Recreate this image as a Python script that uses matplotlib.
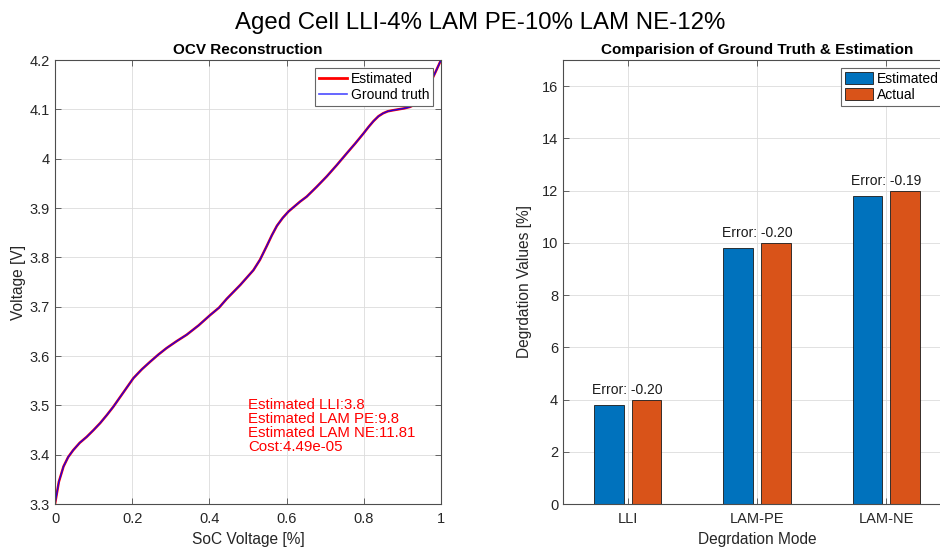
import matplotlib
matplotlib.use("Agg")
import matplotlib.pyplot as plt
import numpy as np

plt.rcParams['font.family'] = ['Liberation Sans', 'DejaVu Sans']

# OCV curve
soc = [0.0, 0.010, 0.022, 0.034, 0.047, 0.064, 0.082, 0.100, 0.117, 0.134, 0.151,
       0.177, 0.203, 0.225, 0.246, 0.268, 0.289, 0.315, 0.341, 0.372, 0.402,
       0.425, 0.445, 0.480, 0.514, 0.531, 0.548, 0.562, 0.575, 0.590, 0.605,
       0.620, 0.635, 0.652, 0.678, 0.704, 0.730, 0.756, 0.778, 0.799, 0.812,
       0.825, 0.838, 0.850, 0.862, 0.875, 0.890, 0.905, 0.920, 0.935, 0.948,
       0.960, 0.972, 0.986, 1.0]
volt = [3.300, 3.345, 3.376, 3.395, 3.409, 3.424, 3.436, 3.450, 3.464, 3.480, 3.497,
        3.526, 3.555, 3.573, 3.588, 3.603, 3.616, 3.630, 3.643, 3.662, 3.683,
        3.698, 3.716, 3.744, 3.774, 3.795, 3.822, 3.845, 3.864, 3.880, 3.893,
        3.903, 3.913, 3.923, 3.943, 3.964, 3.987, 4.011, 4.031, 4.051, 4.064,
        4.076, 4.086, 4.092, 4.096, 4.098, 4.100, 4.102, 4.105, 4.111, 4.121,
        4.135, 4.153, 4.176, 4.200]

categories = ['LLI', 'LAM-PE', 'LAM-NE']
estimated = [3.8, 9.8, 11.81]
actual = [4.0, 10.0, 12.0]
errors = ['-0.20', '-0.20', '-0.19']

annot_lines = ['Estimated LLI:3.8', 'Estimated LAM PE:9.8',
               'Estimated LAM NE:11.81', 'Cost:4.49e-05']

W, H = 940, 549
fig = plt.figure(figsize=(W / 100, H / 100), dpi=100)

grid_kw = dict(color='#dcdcdc', lw=0.6)
spine_col = '#4d4d4d'
tick_col = '#262626'


def style_axes(ax):
    for s in ax.spines.values():
        s.set_color(spine_col)
        s.set_linewidth(0.8)
    ax.tick_params(direction='in', length=4, width=0.6, colors=spine_col,
                   labelcolor=tick_col, labelsize=10.5, top=True, right=True)
    ax.tick_params(axis='x', pad=6)
    ax.grid(True, **grid_kw)
    ax.set_axisbelow(True)


# Left axes
ax1 = fig.add_axes([55 / W, 1 - 504 / H, (441 - 55) / W, (504 - 60) / H])
ax1.plot(soc, volt, color='red', lw=1.8, label='Estimated')
ax1.plot(soc, volt, color='blue', lw=1.0, alpha=0.85, label='Ground truth')
ax1.set_xlim(0, 1)
ax1.set_ylim(3.3, 4.2)
ax1.set_xticks([0, 0.2, 0.4, 0.6, 0.8, 1])
ax1.set_xticklabels(['0', '0.2', '0.4', '0.6', '0.8', '1'])
ax1.set_yticks([3.3, 3.4, 3.5, 3.6, 3.7, 3.8, 3.9, 4.0, 4.1, 4.2])
ax1.set_yticklabels(['3.3', '3.4', '3.5', '3.6', '3.7', '3.8', '3.9', '4', '4.1', '4.2'])
style_axes(ax1)
ax1.set_xlabel('SoC Voltage [%]', fontsize=11.2, color=tick_col, labelpad=4)
ax1.set_ylabel('Voltage [V]', fontsize=11.2, color=tick_col, labelpad=3)
ax1.set_title('OCV Reconstruction', fontsize=11, fontweight='bold', pad=4)
ax1.text(0.5, 3.514, '\n'.join(annot_lines), color='red', fontsize=10.8,
         va='top', ha='left', linespacing=0.98)
leg1 = ax1.legend(loc='upper right', fontsize=10, fancybox=False, framealpha=1,
                  edgecolor='#666666', handlelength=2.0, borderpad=0.3,
                  labelspacing=0.15, handletextpad=0.3, borderaxespad=0.55)
leg1.get_frame().set_linewidth(0.8)
leg_lines = leg1.get_lines()
leg_lines[0].set_linewidth(2.0)
leg_lines[1].set_linewidth(1.2)
leg_lines[1].set_alpha(0.7)

# Right axes (extends beyond the figure edge, as in the reference)
ax2 = fig.add_axes([563 / W, 1 - 504 / H, (951 - 563) / W, (504 - 60) / H])
x = np.arange(1, len(categories) + 1)
off, bw = 0.145, 0.23
ax2.bar(x - off, estimated, bw, color='#0072BD', edgecolor='#1a1a1a', lw=0.6,
        label='Estimated')
ax2.bar(x + off, actual, bw, color='#D95319', edgecolor='#1a1a1a', lw=0.6,
        label='Actual')
for xi, e, a, er in zip(x, estimated, actual, errors):
    ax2.text(xi, max(e, a) + 0.1, f'Error: {er}', ha='center', va='bottom',
             fontsize=10, color='#1a1a1a')
ax2.set_xlim(0.5, 3.5)
ax2.set_ylim(0, 17)
ax2.set_xticks(x)
ax2.set_xticklabels(categories)
ax2.set_yticks([0, 2, 4, 6, 8, 10, 12, 14, 16])
style_axes(ax2)
ax2.set_xlabel('Degrdation Mode', fontsize=11.2, color=tick_col, labelpad=4)
ax2.set_ylabel('Degrdation Values [%]', fontsize=11.2, color=tick_col, labelpad=7)
ax2.set_title('Comparision of Ground Truth & Estimation', fontsize=11,
              fontweight='bold', pad=4)
leg2 = ax2.legend(loc='upper right', fontsize=10, fancybox=False, framealpha=1,
                  edgecolor='#666666', handlelength=2.0, handleheight=0.9,
                  borderpad=0.3, labelspacing=0.15, handletextpad=0.3,
                  borderaxespad=0.55, bbox_to_anchor=(1.0, 1.0))
leg2.get_frame().set_linewidth(0.8)

fig.suptitle('Aged Cell LLI-4% LAM PE-10% LAM NE-12%', fontsize=17.3,
             x=480 / W, y=1 - 12 / H, va='top')

fig.savefig('out.png', dpi=100)
